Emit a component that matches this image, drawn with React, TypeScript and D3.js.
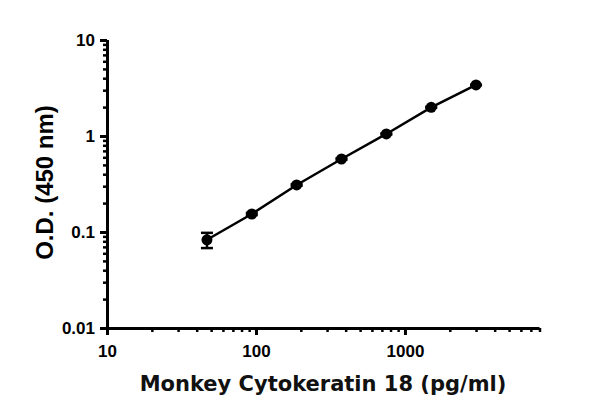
import React, { useRef, useEffect } from 'react';
import * as d3 from 'd3';

// standard curve: concentration (pg/ml) vs O.D. at 450 nm
const concentrations = [46.875, 93.75, 187.5, 375, 750, 1500, 3000];
const odMeans = [0.083, 0.154, 0.309, 0.576, 1.05, 1.99, 3.4];
const odErrors = [0.015, 0.004, 0.006, 0.01, 0.015, 0.025, 0.03];

const xMajor = [10, 100, 1000];
const xMinor = [20, 30, 40, 50, 60, 70, 80, 90, 200, 300, 400, 500, 600, 700, 800, 900, 2000, 3000, 4000, 5000, 6000, 7000, 8000];
const yMajor = [0.01, 0.1, 1, 10];
const yMinor = [0.02, 0.03, 0.04, 0.05, 0.06, 0.07, 0.08, 0.09, 0.2, 0.3, 0.4, 0.5, 0.6, 0.7, 0.8, 0.9, 2, 3, 4, 5, 6, 7, 8, 9];

const App: React.FC = () => {
  const svgRef = useRef<SVGSVGElement>(null);

  useEffect(() => {
    if (!svgRef.current) return;
    const svg = d3.select(svgRef.current);
    svg.selectAll('*').remove();

    const x = d3.scaleLog().domain([10, 8000]).range([107, 539.5]);
    const y = d3.scaleLog().domain([0.01, 10]).range([328, 40]);

    const tickFont = '"Liberation Sans", Arial, sans-serif';

    // x axis
    const gxMinor = svg.append('g').attr('transform', 'translate(0,328)')
      .call(d3.axisBottom(x).tickValues(xMinor).tickSize(4).tickFormat(() => '').tickSizeOuter(0));
    gxMinor.select('.domain').remove();
    gxMinor.selectAll('line').attr('stroke-width', 2.5);

    const gx = svg.append('g').attr('transform', 'translate(0,328)')
      .call(d3.axisBottom(x).tickValues(xMajor).tickSize(7).tickPadding(10)
        .tickFormat(d => String(d)).tickSizeOuter(0));
    gx.select('.domain').attr('stroke-width', 3).attr('d', `M${x.range()[0] - 1.5},0.5H${x.range()[1]}`);
    gx.selectAll('line').attr('stroke-width', 3);
    gx.selectAll('text').attr('font-family', tickFont).attr('font-weight', 'bold')
      .attr('font-size', 17).attr('fill', '#000');

    // y axis
    const gyMinor = svg.append('g').attr('transform', 'translate(107,0)')
      .call(d3.axisLeft(y).tickValues(yMinor).tickSize(4).tickFormat(() => '').tickSizeOuter(0));
    gyMinor.select('.domain').remove();
    gyMinor.selectAll('line').attr('stroke-width', 2.5);

    const gy = svg.append('g').attr('transform', 'translate(107,0)')
      .call(d3.axisLeft(y).tickValues(yMajor).tickSize(7).tickPadding(5)
        .tickFormat(d => String(d)).tickSizeOuter(0));
    gy.select('.domain').attr('stroke-width', 3).attr('d', `M0.5,${y.range()[1]}V${y.range()[0] + 1.5}`);
    gy.selectAll('line').attr('stroke-width', 3);
    gy.selectAll('text').attr('font-family', tickFont).attr('font-weight', 'bold')
      .attr('font-size', 17).attr('fill', '#000');

    // curve
    const pts = concentrations.map((c, i) => ({ c, v: odMeans[i], e: odErrors[i] }));
    const line = d3.line<{ c: number; v: number }>().x(d => x(d.c)).y(d => y(d.v));
    svg.append('path').datum(pts).attr('d', line).attr('fill', 'none')
      .attr('stroke', '#000').attr('stroke-width', 2.5);

    // error bars
    const eb = svg.append('g').attr('stroke', '#000').attr('stroke-width', 2.5);
    pts.forEach(d => {
      const x0 = x(d.c);
      const yt = y(d.v + d.e);
      const yb = y(d.v - d.e);
      eb.append('line').attr('x1', x0).attr('x2', x0).attr('y1', yt).attr('y2', yb);
      eb.append('line').attr('x1', x0 - 6).attr('x2', x0 + 6).attr('y1', yt).attr('y2', yt);
      eb.append('line').attr('x1', x0 - 6).attr('x2', x0 + 6).attr('y1', yb).attr('y2', yb);
    });

    // markers
    svg.append('g').selectAll('circle').data(pts).join('circle')
      .attr('cx', d => x(d.c)).attr('cy', d => y(d.v)).attr('r', 5.5).attr('fill', '#000');

    // titles
    svg.append('text').attr('x', 323).attr('y', 391).attr('text-anchor', 'middle')
      .attr('font-family', '"DejaVu Sans", sans-serif').attr('font-weight', 'bold')
      .attr('font-size', 21).attr('fill', '#111')
      .text('Monkey Cytokeratin 18 (pg/ml)');

    svg.append('text').attr('transform', 'translate(53,182.5) rotate(-90)')
      .attr('text-anchor', 'middle')
      .attr('font-family', tickFont).attr('font-weight', 'bold')
      .attr('font-size', 24).attr('fill', '#000')
      .text('O.D. (450 nm)');
  }, []);

  return (
    <svg ref={svgRef} width={600} height={419}
      style={{ position: 'absolute', left: 0, top: 0, background: '#fff' }} />
  );
};

export default App;
